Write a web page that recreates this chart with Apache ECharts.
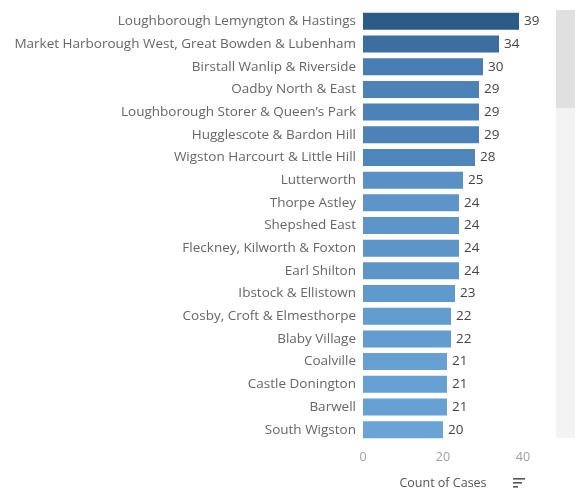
<!DOCTYPE html>
<html>
<head>
<meta charset="utf-8">
<script src="https://cdn.jsdelivr.net/npm/echarts@6/dist/echarts.min.js"></script>
<style>
html,body{margin:0;padding:0;background:#fff;}
#chart{width:578px;height:490px;}
</style>
</head>
<body>
<div id="chart"></div>
<script>
const categories = [
  "Loughborough Lemyngton & Hastings",
  "Market Harborough West, Great Bowden & Lubenham",
  "Birstall Wanlip & Riverside",
  "Oadby North & East",
  "Loughborough Storer & Queen\u2019s Park",
  "Hugglescote & Bardon Hill",
  "Wigston Harcourt & Little Hill",
  "Lutterworth",
  "Thorpe Astley",
  "Shepshed East",
  "Fleckney, Kilworth & Foxton",
  "Earl Shilton",
  "Ibstock & Ellistown",
  "Cosby, Croft & Elmesthorpe",
  "Blaby Village",
  "Coalville",
  "Castle Donington",
  "Barwell",
  "South Wigston"
];
const counts = [39, 34, 30, 29, 29, 29, 28, 25, 24, 24, 24, 24, 23, 22, 22, 21, 21, 21, 20];
const xTicks = [0, 20, 40];
const axisTitle = "Count of Cases";

const font = "'Open Sans', sans-serif";
const chart = echarts.init(document.getElementById('chart'), null, {renderer: 'canvas'});
chart.setOption({
  animation: false,
  backgroundColor: '#fff',
  grid: {left: 363, right: 55, top: 10, bottom: 49, containLabel: false, outerBoundsMode: 'none'},
  visualMap: {
    show: false, type: 'continuous', dimension: 0, seriesIndex: 0,
    min: 20, max: 39,
    inRange: {color: ['#6aa4d5', '#4a80b5', '#2c5b88']}
  },
  xAxis: {
    type: 'value', min: xTicks[0], max: xTicks[xTicks.length - 1], interval: 20,
    axisLine: {show: false}, axisTick: {show: false}, splitLine: {show: false},
    axisLabel: {color: '#a0a0a0', fontSize: 12.5, fontFamily: font, margin: 10},
    name: axisTitle, nameLocation: 'middle', nameGap: 36,
    nameTextStyle: {color: '#555', fontSize: 12.5, fontFamily: font}
  },
  yAxis: {
    type: 'category', data: categories, inverse: true,
    axisLine: {show: false}, axisTick: {show: false},
    axisLabel: {color: '#666', fontSize: 13.5, fontFamily: font, margin: 7}
  },
  series: [{
    type: 'bar', data: counts, barWidth: 17,
    label: {show: true, position: 'right', distance: 5, color: '#444', fontSize: 13.5, fontFamily: font}
  }],
  graphic: [
    {type: 'rect', shape: {x: 556, y: 10, width: 19, height: 428}, style: {fill: '#f3f3f3'}},
    {type: 'rect', shape: {x: 556, y: 10, width: 19, height: 98}, style: {fill: '#e0e0e0'}},
    {type: 'rect', shape: {x: 513, y: 478, width: 12, height: 1.6}, style: {fill: '#555'}},
    {type: 'rect', shape: {x: 513, y: 482, width: 9, height: 1.6}, style: {fill: '#555'}},
    {type: 'rect', shape: {x: 513, y: 486, width: 5, height: 1.6}, style: {fill: '#555'}}
  ]
});
</script>
</body>
</html>
